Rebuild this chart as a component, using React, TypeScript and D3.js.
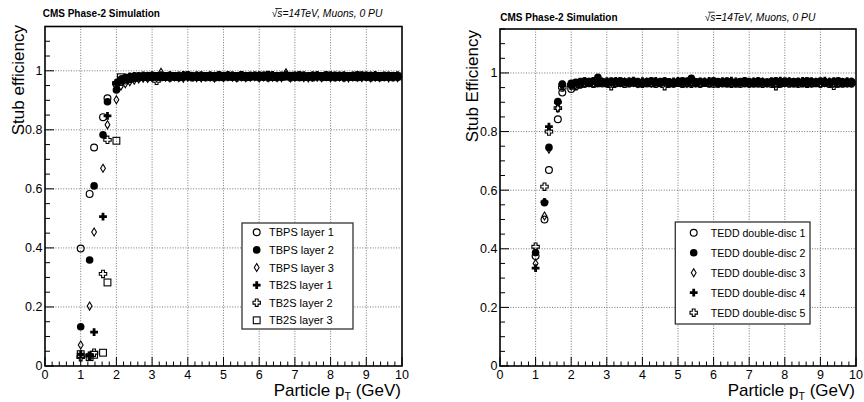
import React from "react";
import * as d3 from "d3";

// ---------- data ----------
const pT = [1.0,1.25,1.375,1.625,1.75,2.0,
  2.125,2.25,2.375,2.5,2.625,2.75,2.875,3.0,3.125,3.25,3.375,3.5,3.625,3.75,3.875,4.0,
  4.125,4.25,4.375,4.5,4.625,4.75,4.875,5.0,5.125,5.25,5.375,5.5,5.625,5.75,5.875,6.0,
  6.125,6.25,6.375,6.5,6.625,6.75,6.875,7.0,7.125,7.25,7.375,7.5,7.625,7.75,7.875,8.0,
  8.125,8.25,8.375,8.5,8.625,8.75,8.875,9.0,9.125,9.25,9.375,9.5,9.625,9.75,9.875];

const tbpsL1 = [0.398,0.583,0.740,0.843,0.907,0.955,
  0.962,0.967,0.971,0.975,0.977,0.979,0.980,0.978,0.981,0.982,
  0.980,0.983,0.981,0.979,0.982,0.984,0.980,0.981,0.983,0.982,
  0.979,0.981,0.984,0.982,0.980,0.983,0.981,0.985,0.982,0.980,
  0.983,0.981,0.982,0.984,0.980,0.982,0.981,0.983,0.979,0.982,
  0.984,0.981,0.980,0.983,0.982,0.981,0.984,0.980,0.982,0.983,
  0.981,0.979,0.982,0.984,0.981,0.983,0.980,0.982,0.981,0.983,
  0.980,0.982,0.981];
const tbpsL2 = [0.133,0.359,0.610,0.783,0.895,0.935,
  0.970,0.976,0.979,0.981,0.983,0.982,0.984,0.981,0.983,0.985,
  0.982,0.984,0.983,0.981,0.984,0.986,0.983,0.982,0.985,0.983,
  0.982,0.984,0.986,0.983,0.981,0.984,0.983,0.986,0.984,0.982,
  0.985,0.983,0.984,0.987,0.983,0.984,0.982,0.985,0.983,0.984,
  0.986,0.983,0.982,0.985,0.984,0.983,0.986,0.982,0.984,0.985,
  0.983,0.982,0.984,0.986,0.983,0.985,0.982,0.984,0.983,0.985,
  0.982,0.984,0.983];
const tbpsL3 = [0.071,0.203,0.454,0.670,0.817,0.902,
  0.948,0.956,0.963,0.968,0.972,0.975,0.974,0.977,0.976,0.995,
  0.978,0.976,0.979,0.977,0.975,0.978,0.980,0.977,0.976,0.979,
  0.978,0.976,0.979,0.977,0.980,0.978,0.976,0.979,0.977,0.978,
  0.980,0.976,0.979,0.977,0.978,0.977,0.977,0.993,0.976,0.978,
  0.980,0.977,0.976,0.979,0.978,0.977,0.980,0.976,0.978,0.979,
  0.977,0.976,0.979,0.978,0.977,0.980,0.976,0.978,0.977,0.979,
  0.976,0.978,0.977];
const tb2sL1 = [0.040,0.035,0.115,0.506,0.847,0.960,
  0.972,0.978,0.981,0.983,0.982,0.984,0.983,0.985,0.982,0.984,
  0.983,0.985,0.982,0.984,0.986,0.983,0.982,0.985,0.984,0.983,
  0.985,0.982,0.984,0.983,0.986,0.984,0.982,0.985,0.983,0.984,
  0.982,0.985,0.984,0.983,0.986,0.982,0.984,0.985,0.983,0.984,
  0.982,0.985,0.983,0.984,0.986,0.983,0.982,0.985,0.984,0.983,
  0.985,0.983,0.984,0.982,0.985,0.983,0.984,0.986,0.983,0.982,
  0.984,0.983,0.985];
const tb2sL2 = [0.030,0.035,0.045,0.312,0.766,0.958,
  0.968,0.974,0.977,0.979,0.978,0.980,0.979,0.981,0.966,0.979,
  0.980,0.978,0.981,0.979,0.980,0.982,0.978,0.980,0.981,0.979,
  0.980,0.978,0.981,0.979,0.982,0.980,0.978,0.981,0.979,0.980,
  0.982,0.979,0.980,0.978,0.981,0.979,0.980,0.982,0.978,0.980,
  0.979,0.981,0.980,0.978,0.982,0.979,0.980,0.981,0.979,0.980,
  0.978,0.981,0.980,0.979,0.982,0.980,0.978,0.981,0.979,0.980,
  0.981,0.979,0.980];
const tb2sL3 = [0.040,0.030,0.038,0.045,0.283,0.763,
  0.978,0.972,0.975,0.978,0.980,0.979,0.981,0.980,0.982,0.979,
  0.981,0.980,0.982,0.979,0.981,0.983,0.980,0.981,0.979,0.982,
  0.980,0.982,0.979,0.981,0.983,0.980,0.982,0.981,0.979,0.982,
  0.981,0.980,0.983,0.981,0.979,0.982,0.980,0.981,0.983,0.980,
  0.982,0.979,0.981,0.980,0.982,0.981,0.979,0.983,0.980,0.981,
  0.982,0.980,0.981,0.979,0.983,0.981,0.980,0.982,0.979,0.981,
  0.980,0.982,0.981];

const teddD1 = [0.375,0.500,0.669,0.842,0.933,0.945,
  0.955,0.960,0.963,0.965,0.962,0.966,0.964,0.967,0.963,0.965,
  0.966,0.962,0.965,0.967,0.963,0.966,0.964,0.965,0.962,0.966,
  0.967,0.963,0.965,0.966,0.962,0.964,0.967,0.965,0.963,0.966,
  0.964,0.962,0.966,0.965,0.963,0.967,0.964,0.962,0.966,0.965,
  0.963,0.967,0.964,0.966,0.962,0.965,0.963,0.967,0.966,0.964,
  0.962,0.966,0.965,0.963,0.967,0.964,0.966,0.962,0.965,0.963,
  0.966,0.964,0.965];
const teddD2 = [0.387,0.557,0.746,0.902,0.962,0.965,
  0.968,0.970,0.972,0.969,0.973,0.985,0.971,0.969,0.972,0.970,
  0.973,0.971,0.969,0.972,0.970,0.968,0.971,0.973,0.970,0.969,
  0.972,0.970,0.968,0.971,0.973,0.969,0.982,0.970,0.971,0.968,
  0.970,0.973,0.971,0.969,0.972,0.970,0.968,0.971,0.973,0.970,
  0.969,0.972,0.970,0.968,0.971,0.973,0.969,0.972,0.970,0.971,
  0.968,0.970,0.973,0.971,0.969,0.972,0.970,0.968,0.971,0.973,
  0.970,0.969,0.971];
const teddD3 = [0.350,0.512,0.740,0.880,0.955,0.955,
  0.960,0.964,0.966,0.968,0.965,0.967,0.969,0.966,0.968,0.965,
  0.967,0.969,0.966,0.968,0.964,0.967,0.969,0.965,0.968,0.966,
  0.968,0.965,0.967,0.969,0.966,0.964,0.968,0.967,0.965,0.969,
  0.966,0.968,0.964,0.967,0.969,0.965,0.968,0.966,0.967,0.965,
  0.968,0.966,0.969,0.965,0.967,0.964,0.968,0.966,0.969,0.967,
  0.965,0.968,0.966,0.967,0.969,0.964,0.967,0.968,0.965,0.966,
  0.968,0.966,0.967];
const teddD4 = [0.334,0.560,0.817,0.900,0.960,0.960,
  0.966,0.970,0.972,0.970,0.973,0.971,0.969,0.972,0.970,0.973,
  0.971,0.969,0.972,0.974,0.970,0.972,0.969,0.971,0.973,0.970,
  0.972,0.969,0.971,0.973,0.970,0.972,0.974,0.969,0.971,0.970,
  0.973,0.971,0.969,0.972,0.970,0.974,0.971,0.969,0.972,0.970,
  0.971,0.973,0.970,0.969,0.972,0.971,0.974,0.970,0.972,0.969,
  0.971,0.973,0.970,0.972,0.969,0.971,0.974,0.970,0.972,0.971,
  0.969,0.972,0.970];
const teddD5 = [0.407,0.612,0.800,0.880,0.950,0.958,
  0.955,0.962,0.965,0.967,0.964,0.966,0.968,0.965,0.955,0.966,
  0.967,0.964,0.966,0.968,0.965,0.963,0.967,0.966,0.964,0.968,
  0.955,0.966,0.964,0.967,0.965,0.968,0.963,0.966,0.964,0.967,
  0.965,0.968,0.964,0.966,0.967,0.963,0.965,0.968,0.966,0.964,
  0.967,0.965,0.963,0.966,0.968,0.955,0.965,0.967,0.964,0.966,
  0.968,0.965,0.963,0.967,0.966,0.964,0.968,0.965,0.956,0.966,
  0.964,0.967,0.965];

const leftNames = ["TBPS layer 1","TBPS layer 2","TBPS layer 3","TB2S layer 1","TB2S layer 2","TB2S layer 3"];
const leftMarkers = ["oc","fc","od","fx","ox","os"];
const leftValues = [tbpsL1, tbpsL2, tbpsL3, tb2sL1, tb2sL2, tb2sL3];

const rightNames = ["TEDD double-disc 1","TEDD double-disc 2","TEDD double-disc 3","TEDD double-disc 4","TEDD double-disc 5"];
const rightMarkers = ["oc","fc","od","fx","ox"];
const rightValues = [teddD1, teddD2, teddD3, teddD4, teddD5];

const xTicks = [0,1,2,3,4,5,6,7,8,9,10];
const yTicks = [0,0.2,0.4,0.6,0.8,1];
const yTickLabels = ["0","0.2","0.4","0.6","0.8","1"];

const FONT = "'Liberation Sans', Arial, Helvetica, sans-serif";

function plusPath(cx: number, cy: number, h: number, a: number) {
  return `M${cx - a},${cy - h}H${cx + a}V${cy - a}H${cx + h}V${cy + a}H${cx + a}V${cy + h}H${cx - a}V${cy + a}H${cx - h}V${cy - a}H${cx - a}Z`;
}

function Marker({ type, x, y }: { type: string; x: number; y: number }) {
  switch (type) {
    case "oc":
      return <circle cx={x} cy={y} r={3.4} fill="none" stroke="#000" strokeWidth={1.2} />;
    case "fc":
      return <circle cx={x} cy={y} r={3.8} fill="#000" />;
    case "od":
      return (
        <path d={`M${x},${y - 4}L${x + 2.4},${y}L${x},${y + 4}L${x - 2.4},${y}Z`} fill="none" stroke="#000" strokeWidth={1.1} />
      );
    case "fx":
      return <path d={plusPath(x, y, 3.9, 1.4)} fill="#000" />;
    case "ox":
      return <path d={plusPath(x, y, 3.7, 1.4)} fill="none" stroke="#000" strokeWidth={1.1} />;
    case "os":
      return <rect x={x - 3.4} y={y - 3.4} width={6.8} height={6.8} fill="none" stroke="#000" strokeWidth={1.1} />;
  }
  return null;
}

interface PanelProps {
  left: number; right: number; top: number; bottom: number;
  values: number[][]; markers: string[]; names: string[];
  yLabel: string; yLabelX: number; yLabelTop: number;
  headerY: number; cmsX: number; infoX: number; legendFont: number;
  legend: { x0: number; x1: number; y0: number; y1: number; rowY0: number; rowStep: number; mx: number; tx: number };
}

function Panel(p: PanelProps) {
  const x = d3.scaleLinear().domain([0, 10]).range([p.left, p.right]);
  const y = d3.scaleLinear().domain([0, 1.15]).range([p.bottom, p.top]);
  const xMinor = d3.range(0, 10.001, 0.2);
  const yMinor = d3.range(0, 1.1501, 0.05);
  return (
    <g fontFamily={FONT}>
      {/* grid */}
      {xTicks.slice(1, -1).map((t) => (
        <line key={"gx" + t} x1={x(t)} x2={x(t)} y1={p.top} y2={p.bottom} stroke="#555" strokeWidth={0.8} strokeDasharray="1 1.6" />
      ))}
      {yTicks.slice(1).map((t) => (
        <line key={"gy" + t} x1={p.left} x2={p.right} y1={y(t)} y2={y(t)} stroke="#555" strokeWidth={0.8} strokeDasharray="1 1.6" />
      ))}
      {/* ticks */}
      {xMinor.map((t, i) => {
        const major = Math.abs(t - Math.round(t)) < 1e-6;
        return <line key={"tx" + i} x1={x(t)} x2={x(t)} y1={p.bottom} y2={p.bottom - (major ? 9 : 4.5)} stroke="#000" strokeWidth={1} />;
      })}
      {yMinor.map((t, i) => {
        const major = Math.abs(t * 5 - Math.round(t * 5)) < 1e-6;
        return <line key={"ty" + i} x1={p.left} x2={p.left + (major ? 9 : 5)} y1={y(t)} y2={y(t)} stroke="#000" strokeWidth={1} />;
      })}
      {/* data */}
      {p.values.map((vals, si) => (
        <g key={"s" + si}>
          {vals.map((v, i) => (i < pT.length ? <Marker key={i} type={p.markers[si]} x={x(pT[i])} y={y(v)} /> : null))}
        </g>
      ))}
      {/* frame */}
      <rect x={p.left} y={p.top} width={p.right - p.left} height={p.bottom - p.top} fill="none" stroke="#000" strokeWidth={1.6} />
      {/* tick labels */}
      {xTicks.map((t) => (
        <text key={"lx" + t} x={x(t)} y={p.bottom + 12.5} textAnchor="middle" fontSize={12.5}>{t}</text>
      ))}
      {yTicks.map((t, i) => (
        <text key={"ly" + t} x={p.left - 2.5} y={y(t) + 4.5 - (t === 0 ? 1 : 0)} textAnchor="end" fontSize={12.5}>{yTickLabels[i]}</text>
      ))}
      {/* axis titles */}
      <text x={p.right - 1} y={396} textAnchor="end" fontSize={17}>
        Particle p<tspan fontSize={10.5} dy={4}>T</tspan><tspan dy={-4}> (GeV)</tspan>
      </text>
      <text transform={`translate(${p.yLabelX},${p.yLabelTop}) rotate(-90)`} textAnchor="end" fontSize={17}>{p.yLabel}</text>
      {/* header */}
      <text x={p.cmsX} y={p.headerY} fontSize={10} fontWeight="bold">CMS Phase-2 Simulation</text>
      <text x={p.infoX} y={p.headerY} fontSize={10.3} fontStyle="italic">√s=14TeV, Muons, 0 PU</text>
      <line x1={p.infoX + 3.5} x2={p.infoX + 10} y1={p.headerY - 8.3} y2={p.headerY - 8.3} stroke="#000" strokeWidth={0.8} />
      {/* legend */}
      <rect x={p.legend.x0} y={p.legend.y0} width={p.legend.x1 - p.legend.x0} height={p.legend.y1 - p.legend.y0} fill="#fff" stroke="#333" strokeWidth={1.3} />
      {p.names.map((n, i) => {
        const ry = p.legend.rowY0 + i * p.legend.rowStep;
        return (
          <g key={"lg" + i}>
            <Marker type={p.markers[i]} x={p.legend.mx} y={ry} />
            <text x={p.legend.tx} y={ry + 4} fontSize={p.legendFont}>{n}</text>
          </g>
        );
      })}
    </g>
  );
}

export default function App() {
  return (
    <svg width={864} height={402} style={{ position: "absolute", left: 0, top: 0, background: "#fff" }}>
      <rect width={864} height={402} fill="#fff" />
      <Panel
        left={45} right={402} top={26.5} bottom={366}
        values={leftValues} markers={leftMarkers} names={leftNames}
        yLabel="Stub efficiency" yLabelX={24} yLabelTop={25}
        headerY={16.8} cmsX={42.7} infoX={271.7} legendFont={11}
        legend={{ x0: 242, x1: 353, y0: 223, y1: 329, rowY0: 232.3, rowStep: 17.6, mx: 256.7, tx: 269 }}
      />
      <Panel
        left={500} right={856} top={29} bottom={366}
        values={rightValues} markers={rightMarkers} names={rightNames}
        yLabel="Stub Efficiency" yLabelX={478} yLabelTop={30}
        headerY={20.5} cmsX={500.3} infoX={704.7} legendFont={10.6}
        legend={{ x0: 675.3, x1: 810, y0: 222, y1: 324, rowY0: 232.7, rowStep: 20, mx: 693.7, tx: 710.7 }}
      />
    </svg>
  );
}
